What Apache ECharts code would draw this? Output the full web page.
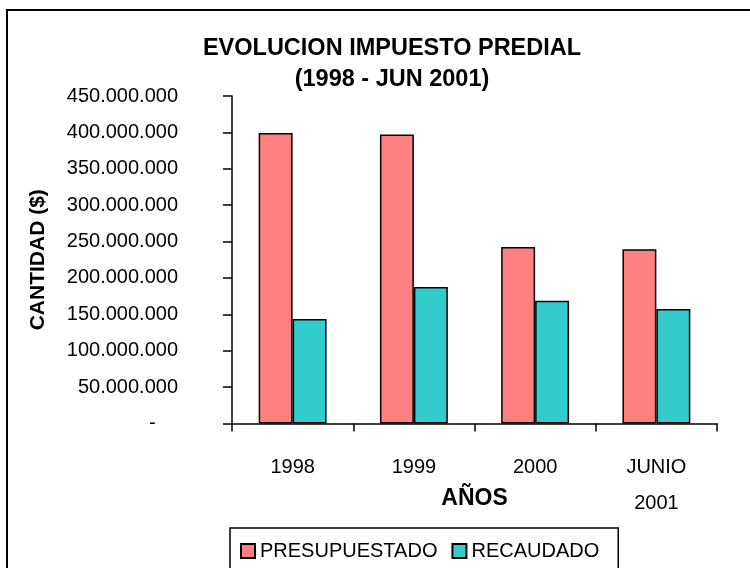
<!DOCTYPE html>
<html>
<head>
<meta charset="utf-8">
<script src="https://cdn.jsdelivr.net/npm/echarts@6/dist/echarts.min.js"></script>
<style>
  html, body { margin: 0; padding: 0; background: #fff; }
  #chart { width: 750px; height: 568px; }
</style>
</head>
<body>
<div id="chart"></div>
<script>
// datos
var anos = ['1998', '1999', '2000', 'JUNIO\n2001']
var presupuestado = [399000000, 397000000, 242500000, 239500000]
var recaudado = [143500000, 187500000, 168500000, 157500000]
var serieNombres = ['PRESUPUESTADO', 'RECAUDADO']

var fuente = 'Liberation Sans'

function miles (v) {
  if (v === 0) return '-    '
  return String(v).replace(/\B(?=(\d{3})+(?!\d))/g, '.')
}

var option = {
  animation: false,
  textStyle: { fontFamily: fuente },
  title: {
    text: 'EVOLUCION IMPUESTO PREDIAL\n(1998 - JUN 2001)',
    left: 387,
    textAlign: 'center',
    top: 28,
    textStyle: { fontSize: 23.5, fontWeight: 'bold', color: '#000', lineHeight: 31 }
  },
  legend: {
    data: serieNombres,
    left: 230,
    top: 528,
    orient: 'horizontal',
    padding: [13, 19, 20, 10],
    borderColor: '#000',
    borderWidth: 1.5,
    itemWidth: 14,
    itemHeight: 14,
    itemGap: 14,
    icon: 'rect',
    textStyle: { fontSize: 20, color: '#000' }
  },
  grid: { left: 232, right: 33, top: 96, bottom: 144.5, containLabel: false },
  xAxis: {
    type: 'category',
    data: anos,
    name: 'AÑOS',
    nameLocation: 'middle',
    nameGap: 64,
    nameMoveOverlap: false,
    nameTextStyle: { fontSize: 23, fontWeight: 'bold', color: '#000' },
    axisLine: { lineStyle: { color: '#000', width: 1.5 } },
    axisTick: { show: true, length: 8, lineStyle: { color: '#000', width: 1.5 } },
    axisLabel: { fontSize: 20, color: '#000', margin: 26, lineHeight: 36 }
  },
  yAxis: {
    type: 'value',
    min: 0,
    max: 450000000,
    interval: 50000000,
    name: 'CANTIDAD ($)',
    nameLocation: 'middle',
    nameGap: 183,
    nameMoveOverlap: false,
    nameTextStyle: { fontSize: 21, fontWeight: 'bold', color: '#000' },
    axisLine: { show: true, lineStyle: { color: '#000', width: 1.5 } },
    axisTick: { show: true, length: 9, lineStyle: { color: '#000', width: 1.5 } },
    splitLine: { show: false },
    axisLabel: { fontSize: 20, color: '#000', margin: 54, formatter: miles }
  },
  series: [
    {
      name: serieNombres[0],
      type: 'bar',
      data: presupuestado,
      barGap: '0%',
      barCategoryGap: '44%',
      itemStyle: { color: '#FF8080', borderColor: '#000', borderWidth: 1.5 }
    },
    {
      name: serieNombres[1],
      type: 'bar',
      data: recaudado,
      itemStyle: { color: '#33CCCC', borderColor: '#000', borderWidth: 1.5 }
    }
  ],
  graphic: [
    {
      type: 'rect',
      shape: { x: 7, y: 10, width: 800, height: 700 },
      style: { fill: 'none', stroke: '#000', lineWidth: 2 },
      silent: true
    }
  ]
}

var myChart = echarts.init(document.getElementById('chart'))
myChart.setOption(option)
</script>
</body>
</html>
